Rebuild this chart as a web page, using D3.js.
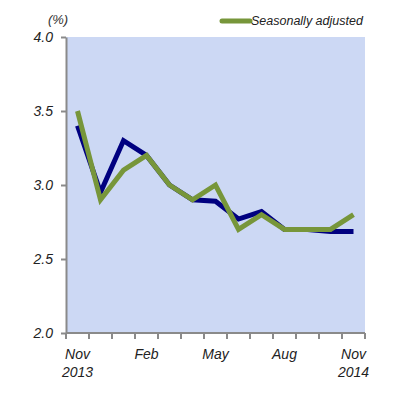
<!DOCTYPE html>
<html><head><meta charset="utf-8">
<script src="https://cdn.jsdelivr.net/npm/d3@7"></script>
<style>body{margin:0;background:#fff}svg{display:block}text{font-family:"Liberation Sans",Arial,sans-serif;font-style:italic}</style>
</head><body>
<script>
const months = ["Nov\n2013","Dec","Jan","Feb","Mar","Apr","May","Jun","Jul","Aug","Sep","Oct","Nov\n2014"];
const shownLabels = ["Nov\n2013","Feb","May","Aug","Nov\n2014"];
const unadjusted = [3.4,2.95,3.3,3.2,3.0,2.9,2.89,2.77,2.82,2.7,2.7,2.685,2.685];
const seasonallyAdjusted = [3.5,2.9,3.1,3.2,3.0,2.9,3.0,2.7,2.8,2.7,2.7,2.7,2.8];
const yTicks = [2.0,2.5,3.0,3.5,4.0];
const legendLabel = "Seasonally adjusted";
const unitLabel = "(%)";

(function(){
const W=403,H=398;
const mL=66,mR=365,mT=37,mB=333;
const svg=d3.select("body").append("svg").attr("width",W).attr("height",H);
const x=d3.scaleBand().domain(d3.range(months.length)).range([mL,mR]);
const y=d3.scaleLinear().domain([2,4]).range([mB,mT]);

svg.append("rect").attr("x",mL).attr("y",mT).attr("width",mR-mL).attr("height",mB-mT).attr("fill","#ccd8f4");

// y axis
const ya=svg.append("g").attr("transform",`translate(${mL},0)`)
  .call(d3.axisLeft(y).tickValues(yTicks).tickFormat(d3.format(".1f")).tickSize(5).tickSizeOuter(0));
ya.select(".domain").attr("stroke","#8a8a8a").attr("stroke-width",2);
ya.selectAll(".tick line").attr("stroke","#8a8a8a").attr("stroke-width",2);
ya.selectAll(".tick text").attr("font-size",14).attr("fill","#222").attr("font-family","Liberation Sans, Arial, sans-serif").attr("x",-13);

// x axis ticks at band boundaries
const xa=svg.append("g").attr("transform",`translate(0,${mB})`);
xa.append("line").attr("x1",mL).attr("x2",mR).attr("stroke","#8a8a8a").attr("stroke-width",2);
const bounds=d3.range(months.length+1).map(i=>i<months.length?x(i):x(months.length-1)+x.bandwidth());
xa.selectAll("line.t").data(bounds).join("line").attr("class","t")
  .attr("x1",d=>d).attr("x2",d=>d).attr("y1",0).attr("y2",6).attr("stroke","#8a8a8a").attr("stroke-width",2);
const lab=xa.selectAll("text.l").data(months.map((m,i)=>({m,i})).filter(d=>shownLabels.includes(d.m))).join("text")
  .attr("class","l").attr("text-anchor","middle").attr("font-size",14).attr("fill","#222");
lab.each(function(d){
  const t=d3.select(this);
  d.m.split("\n").forEach((s,k)=>t.append("tspan").attr("x",x(d.i)+x.bandwidth()/2).attr("y",26+k*18).text(s));
});

const line=d3.line().x((d,i)=>x(i)+x.bandwidth()/2).y(d=>y(d));
svg.append("path").datum(unadjusted).attr("d",line).attr("fill","none").attr("stroke","#000080").attr("stroke-width",5).attr("stroke-linejoin","miter");
svg.append("path").datum(seasonallyAdjusted).attr("d",line).attr("fill","none").attr("stroke","#77963a").attr("stroke-width",5).attr("stroke-linejoin","miter");

// legend
svg.append("line").attr("x1",222).attr("x2",250).attr("y1",21).attr("y2",21).attr("stroke","#77963a").attr("stroke-width",5).attr("stroke-linecap","round");
svg.append("text").attr("x",251).attr("y",25).attr("font-size",12.5).attr("fill","#222").text(legendLabel);
svg.append("text").attr("x",58).attr("y",24).attr("text-anchor","middle").attr("font-size",13).attr("fill","#333").text(unitLabel);
})();
</script>
</body></html>
